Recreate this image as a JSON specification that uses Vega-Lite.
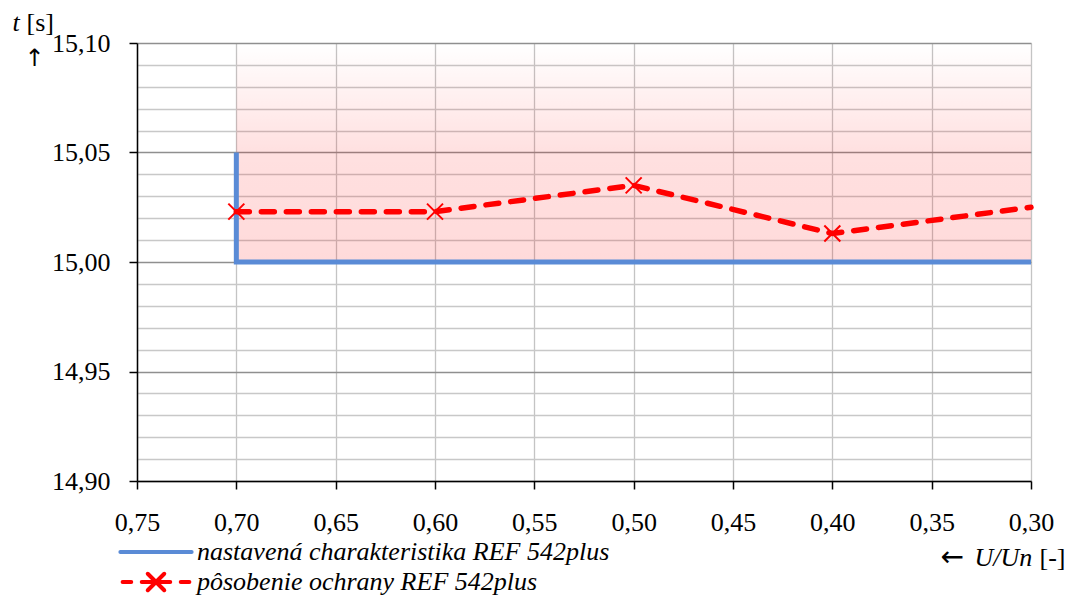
{
  "$schema": "https://vega.github.io/schema/vega-lite/v6.json",
  "width": 894,
  "height": 438,
  "autosize": {"type": "none"},
  "padding": {"left": 137, "top": 43, "right": 37, "bottom": 115},
  "background": "white",
  "config": {
    "font": "Liberation Serif",
    "view": {"stroke": null},
    "style": {"guide-label": {"font": "Liberation Serif"}, "guide-title": {"font": "Liberation Serif"}},
    "axis": {"titleFont": "Liberation Serif", "labelFont": "Liberation Serif", "titleColor": "black", "labelColor": "black", "titleFontWeight": "normal"},
    "legend": {"labelFont": "Liberation Serif"}
  },
  "datasets": {
    "zone": [{"u_from": 0.70, "u_to": 0.30, "t_from": 15.00, "t_to": 15.10}],
    "setting": [
      {"u": 0.70, "t": 15.05, "k": 1, "series": "nastavená charakteristika REF 542plus"},
      {"u": 0.70, "t": 15.00, "k": 2, "series": "nastavená charakteristika REF 542plus"},
      {"u": 0.30, "t": 15.00, "k": 3, "series": "nastavená charakteristika REF 542plus"}
    ],
    "measured": [
      {"u": 0.70, "t": 15.023, "series": "pôsobenie ochrany REF 542plus"},
      {"u": 0.60, "t": 15.023, "series": "pôsobenie ochrany REF 542plus"},
      {"u": 0.50, "t": 15.035, "series": "pôsobenie ochrany REF 542plus"},
      {"u": 0.40, "t": 15.013, "series": "pôsobenie ochrany REF 542plus"},
      {"u": 0.30, "t": 15.025, "series": "pôsobenie ochrany REF 542plus"}
    ]
  },
  "layer": [
    {
      "data": {"name": "zone"},
      "mark": {
        "type": "rect",
        "fill": {
          "gradient": "linear", "x1": 0, "y1": 0, "x2": 0, "y2": 1,
          "stops": [
            {"offset": 0, "color": "rgba(255,0,0,0)"},
            {"offset": 0.5, "color": "rgba(255,0,0,0.12)"},
            {"offset": 1, "color": "rgba(255,0,0,0.145)"}
          ]
        }
      },
      "encoding": {
        "x": {
          "field": "u_from", "type": "quantitative",
          "scale": {"domain": [0.3, 0.75], "reverse": true, "nice": false, "zero": false},
          "axis": {
            "orient": "bottom",
            "values": [0.75, 0.7, 0.65, 0.6, 0.55, 0.5, 0.45, 0.4, 0.35, 0.3],
            "labelExpr": "replace(format(datum.value, '.2f'), '.', ',')",
            "labelFont": "Liberation Serif",
            "labelFontSize": 26, "labelBaseline": "alphabetic", "labelPadding": 41, "labelFlush": false,
            "domainColor": "black", "domainWidth": 1.5,
            "ticks": true, "tickColor": "black", "tickSize": 8, "tickWidth": 1.5,
            "grid": true, "gridColor": "#c4c4c4", "gridWidth": 1.3,
            "title": "U/Un", "titleFont": "Liberation Serif", "titleFontStyle": "italic", "titleFontSize": 26,
            "titleX": 837, "titleY": 84, "titleAlign": "left", "titleBaseline": "alphabetic", "titleAngle": 0
          }
        },
        "x2": {"field": "u_to"},
        "y": {
          "field": "t_from", "type": "quantitative",
          "scale": {"domain": [14.9, 15.1], "nice": false, "zero": false},
          "axis": {
            "orient": "left",
            "values": [14.9, 14.95, 15.0, 15.05, 15.1],
            "labelExpr": "replace(format(datum.value, '.2f'), '.', ',')",
            "labelFont": "Liberation Serif",
            "labelFontSize": 26, "labelBaseline": "middle", "labelPadding": 19, "labelFlush": false,
            "domainColor": "black", "domainWidth": 1.5,
            "ticks": true, "tickColor": "black", "tickSize": 8, "tickWidth": 1.5,
            "grid": true, "gridColor": "#8f8f8f", "gridWidth": 1.4,
            "title": "t", "titleFont": "Liberation Serif", "titleFontStyle": "italic", "titleFontSize": 26,
            "titleX": -125, "titleY": -13, "titleAlign": "left", "titleBaseline": "alphabetic", "titleAngle": 0
          }
        },
        "y2": {"field": "t_to"}
      }
    },
    {
      "data": {"name": "setting"},
      "mark": {"type": "line", "strokeWidth": 5, "strokeCap": "butt", "strokeJoin": "miter"},
      "encoding": {
        "x": {
          "field": "u", "type": "quantitative",
          "axis": {
            "orient": "bottom", "values": [], "labels": false, "ticks": false, "domain": false, "grid": false,
            "title": "←", "titleFont": "DejaVu Sans", "titleFontSize": 28, "titleX": 803, "titleY": 84, "titleAlign": "left", "titleBaseline": "alphabetic", "titleAngle": 0
          }
        },
        "y": {
          "field": "t", "type": "quantitative",
          "axis": {
            "orient": "left",
            "values": [14.91, 14.92, 14.93, 14.94, 14.96, 14.97, 14.98, 14.99, 15.01, 15.02, 15.03, 15.04, 15.06, 15.07, 15.08, 15.09],
            "labels": false, "ticks": false, "domain": false,
            "grid": true, "gridColor": "#c8c8c8", "gridWidth": 1.3,
            "title": "[s]", "titleFont": "Liberation Serif", "titleFontSize": 26, "titleX": -111, "titleY": -13, "titleAlign": "left", "titleBaseline": "alphabetic", "titleAngle": 0
          }
        },
        "order": {"field": "k", "type": "quantitative"},
        "color": {
          "field": "series", "type": "nominal",
          "scale": {"domain": ["nastavená charakteristika REF 542plus", "pôsobenie ochrany REF 542plus"], "range": ["#5A8BD6", "#FF0000"]},
          "legend": {
            "orient": "none", "legendX": 6, "legendY": 496, "title": null, "padding": 0,
            "symbolType": "M-5,0L5,0", "symbolSize": 225, "symbolStrokeWidth": 4,
            "labelFont": "Liberation Serif", "labelFontStyle": "italic", "labelFontSize": 26, "labelColor": "black",
            "labelOffset": 28, "rowPadding": 0, "labelLimit": 0,
            "encode": {
              "symbols": {
                "update": {
                  "shape": [
                    {"test": "datum.value === 'pôsobenie ochrany REF 542plus'", "value": "M-4.45,0L-3.3,0M-1.9,0L1.9,0M3.3,0L4.45,0M-1.1,-1.1L1.1,1.1M-1.1,1.1L1.1,-1.1"},
                    {"value": "M-4.75,0L4.75,0"}
                  ],
                  "strokeCap": {"value": "round"},
                  "fill": {"value": "transparent"}
                }
              },
              "labels": {"update": {"font": {"value": "Liberation Serif"}}}
            }
          }
        }
      }
    },
    {
      "data": {"name": "measured"},
      "mark": {"type": "line", "strokeWidth": 5.5, "strokeDash": [13, 12], "strokeCap": "round", "interpolate": "linear"},
      "encoding": {
        "x": {
          "field": "u", "type": "quantitative",
          "axis": {
            "orient": "bottom", "values": [], "labels": false, "ticks": false, "domain": false, "grid": false,
            "title": "[-]", "titleFont": "Liberation Serif", "titleFontSize": 26, "titleX": 902, "titleY": 84, "titleAlign": "left", "titleBaseline": "alphabetic", "titleAngle": 0
          }
        },
        "y": {
          "field": "t", "type": "quantitative",
          "axis": {
            "orient": "left", "values": [], "labels": false, "ticks": false, "domain": false, "grid": false,
            "title": "↑", "titleFont": "DejaVu Sans", "titleFontSize": 24, "titleX": -113, "titleY": 22, "titleAlign": "left", "titleBaseline": "alphabetic", "titleAngle": 0
          }
        },
        "order": {"field": "u", "type": "quantitative", "sort": "descending"},
        "color": {"field": "series", "type": "nominal"}
      }
    },
    {
      "data": {"name": "measured"},
      "transform": [{"filter": "datum.u > 0.31"}],
      "mark": {"type": "point", "shape": "M-1,-1L1,1M-1,1L1,-1", "filled": false, "stroke": "#FF0000", "strokeWidth": 2, "size": 256, "opacity": 1},
      "encoding": {
        "x": {"field": "u", "type": "quantitative", "axis": null},
        "y": {"field": "t", "type": "quantitative", "axis": null}
      }
    }
  ],
  "resolve": {"axis": {"x": "independent", "y": "independent"}}
}
